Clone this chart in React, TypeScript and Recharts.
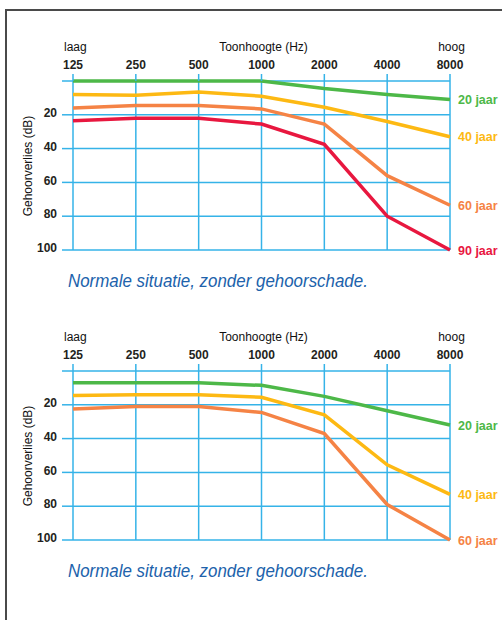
import { CartesianGrid, LabelList, Line, LineChart, XAxis, YAxis } from 'recharts';

const FREQUENCIES = ['125', '250', '500', '1000', '2000', '4000', '8000'];
const Y_TICKS = [0, 20, 40, 60, 80, 100];

// bovenste grafiek
const TOP_NAMES = ['20 jaar', '40 jaar', '60 jaar', '90 jaar'];
const TOP_20 = [0, 0, 0, 0, 4.5, 8, 11];
const TOP_40 = [8, 8.5, 6.5, 9, 15.5, 24, 33];
const TOP_60 = [16, 14.5, 14.5, 16.5, 25.5, 56, 73.5];
const TOP_90 = [23.5, 22, 22, 25.5, 37.5, 80, 100];

// onderste grafiek
const BOTTOM_NAMES = ['20 jaar', '40 jaar', '60 jaar'];
const BOTTOM_20 = [7, 7, 7, 8.5, 15, 23.5, 32];
const BOTTOM_40 = [14.5, 14, 14, 15.5, 26, 55.5, 73];
const BOTTOM_60 = [22.5, 21, 21, 24.5, 37, 79, 100];

const CAPTION = 'Normale situatie, zonder gehoorschade.';

const GREEN = '#4db848';
const YELLOW = '#fdb913';
const ORANGE = '#f58345';
const RED = '#e8173f';
const GRID = '#35b3e8';
const INK = '#231f20';
const FONT = '"Liberation Sans", Arial, sans-serif';

type Series = { name: string; color: string; values: number[] };

function HearingChart({ series, top }: { series: Series[]; top: number }) {
  const last = FREQUENCIES.length - 1;
  const data = FREQUENCIES.map((freq, i) => {
    const row: Record<string, string | number | undefined> = { freq };
    series.forEach((s, k) => {
      row[`s${k}`] = s.values[i];
      row[`l${k}`] = i === last ? s.name : undefined;
    });
    return row;
  });

  const headStyle = {
    position: 'absolute' as const,
    top: 40,
    fontSize: 12,
    lineHeight: '14px',
    color: '#111',
    whiteSpace: 'nowrap' as const,
  };

  return (
    <div style={{ position: 'absolute', left: 0, top, width: 502, height: 290, fontFamily: FONT }}>
      <div style={{ ...headStyle, left: 64 }}>laag</div>
      <div style={{ ...headStyle, left: 263.5, transform: 'translateX(-50%)' }}>Toonhoogte (Hz)</div>
      <div style={{ ...headStyle, left: 451.5, transform: 'translateX(-50%)' }}>hoog</div>
      <div
        style={{
          position: 'absolute',
          left: 28,
          top: 165.5,
          fontSize: 12,
          color: '#111',
          whiteSpace: 'nowrap',
          transform: 'translate(-50%, -50%) rotate(-90deg)',
        }}
      >
        Gehoorverlies (dB)
      </div>

      <LineChart width={502} height={260} data={data} margin={{ top: 0, right: 52, bottom: 10, left: 0 }}>
        <CartesianGrid stroke={GRID} strokeWidth={1.5} />
        <XAxis
          dataKey='freq'
          orientation='top'
          height={81}
          interval={0}
          axisLine={false}
          tickLine={{ stroke: GRID, strokeWidth: 1.5 }}
          tickSize={7}
          tickMargin={5}
          tick={{ fill: INK, fontSize: 12, fontWeight: 700, fontFamily: FONT }}
        />
        <YAxis
          type='number'
          domain={[0, 100]}
          ticks={Y_TICKS}
          reversed
          interval={0}
          width={73}
          axisLine={false}
          tickLine={{ stroke: GRID, strokeWidth: 1.5 }}
          tickSize={11}
          tickMargin={5}
          tickFormatter={(v: number) => (v === 0 ? '' : String(v))}
          tick={{ fill: INK, fontSize: 12, fontWeight: 700, fontFamily: FONT, dy: -2 }}
        />
        {series.map((s, k) => (
          <Line
            key={s.name}
            type='linear'
            dataKey={`s${k}`}
            stroke={s.color}
            strokeWidth={3.5}
            dot={false}
            activeDot={false}
            isAnimationActive={false}
          >
            <LabelList
              dataKey={`l${k}`}
              content={(p: any) =>
                p.value ? (
                  <text
                    x={Number(p.x) + 8}
                    y={Number(p.y)}
                    dy={4.5}
                    fill={s.color}
                    fontSize={12.5}
                    fontWeight={700}
                    fontFamily={FONT}
                  >
                    {p.value}
                  </text>
                ) : null
              }
            />
          </Line>
        ))}
      </LineChart>

      <div
        style={{
          position: 'absolute',
          left: 68,
          top: 270,
          fontSize: 19,
          lineHeight: '22px',
          fontStyle: 'italic',
          color: '#2062ab',
          whiteSpace: 'nowrap',
          transform: 'scaleX(0.89)',
          transformOrigin: 'left center',
        }}
      >
        {CAPTION}
      </div>
    </div>
  );
}

export default function App() {
  const topSeries: Series[] = [
    { name: TOP_NAMES[0], color: GREEN, values: TOP_20 },
    { name: TOP_NAMES[1], color: YELLOW, values: TOP_40 },
    { name: TOP_NAMES[2], color: ORANGE, values: TOP_60 },
    { name: TOP_NAMES[3], color: RED, values: TOP_90 },
  ];
  const bottomSeries: Series[] = [
    { name: BOTTOM_NAMES[0], color: GREEN, values: BOTTOM_20 },
    { name: BOTTOM_NAMES[1], color: YELLOW, values: BOTTOM_40 },
    { name: BOTTOM_NAMES[2], color: ORANGE, values: BOTTOM_60 },
  ];

  return (
    <div style={{ position: 'absolute', left: 0, top: 0, width: 502, height: 620, overflow: 'hidden', background: '#fff' }}>
      <div
        style={{
          position: 'absolute',
          left: 5,
          top: 9,
          width: 520,
          height: 640,
          borderLeft: '2px solid #4a4a4a',
          borderTop: '2px solid #4a4a4a',
        }}
      />
      <HearingChart series={topSeries} top={0} />
      <HearingChart series={bottomSeries} top={290} />
    </div>
  );
}
